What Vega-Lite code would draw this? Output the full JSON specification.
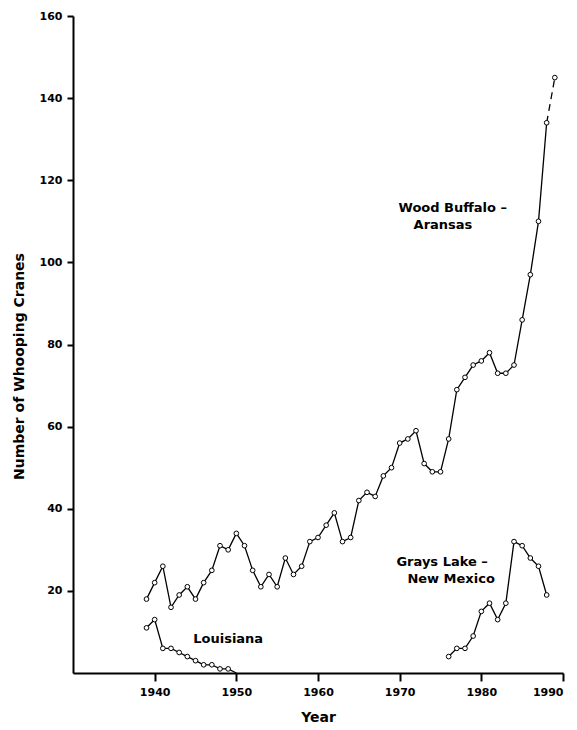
{
  "$schema": "https://vega.github.io/schema/vega-lite/v6.json",
  "width": 490,
  "height": 657,
  "autosize": {"type": "none"},
  "padding": {"left": 73, "top": 16, "right": 14, "bottom": 57},
  "background": "white",
  "config": {
    "view": {"stroke": null},
    "axis": {
      "grid": false,
      "domainColor": "black",
      "domainWidth": 2,
      "tickColor": "black",
      "tickWidth": 2,
      "labelFont": "DejaVu Sans",
      "labelFontWeight": "bold",
      "labelFontSize": 11,
      "labelColor": "black",
      "titleFont": "DejaVu Sans",
      "titleFontWeight": "bold",
      "titleFontSize": 14,
      "titleColor": "black"
    }
  },
  "datasets": {
    "cranes": [
      {"population": "Wood Buffalo – Aransas", "year": 1939, "count": 18},
      {"population": "Wood Buffalo – Aransas", "year": 1940, "count": 22},
      {"population": "Wood Buffalo – Aransas", "year": 1941, "count": 26},
      {"population": "Wood Buffalo – Aransas", "year": 1942, "count": 16},
      {"population": "Wood Buffalo – Aransas", "year": 1943, "count": 19},
      {"population": "Wood Buffalo – Aransas", "year": 1944, "count": 21},
      {"population": "Wood Buffalo – Aransas", "year": 1945, "count": 18},
      {"population": "Wood Buffalo – Aransas", "year": 1946, "count": 22},
      {"population": "Wood Buffalo – Aransas", "year": 1947, "count": 25},
      {"population": "Wood Buffalo – Aransas", "year": 1948, "count": 31},
      {"population": "Wood Buffalo – Aransas", "year": 1949, "count": 30},
      {"population": "Wood Buffalo – Aransas", "year": 1950, "count": 34},
      {"population": "Wood Buffalo – Aransas", "year": 1951, "count": 31},
      {"population": "Wood Buffalo – Aransas", "year": 1952, "count": 25},
      {"population": "Wood Buffalo – Aransas", "year": 1953, "count": 21},
      {"population": "Wood Buffalo – Aransas", "year": 1954, "count": 24},
      {"population": "Wood Buffalo – Aransas", "year": 1955, "count": 21},
      {"population": "Wood Buffalo – Aransas", "year": 1956, "count": 28},
      {"population": "Wood Buffalo – Aransas", "year": 1957, "count": 24},
      {"population": "Wood Buffalo – Aransas", "year": 1958, "count": 26},
      {"population": "Wood Buffalo – Aransas", "year": 1959, "count": 32},
      {"population": "Wood Buffalo – Aransas", "year": 1960, "count": 33},
      {"population": "Wood Buffalo – Aransas", "year": 1961, "count": 36},
      {"population": "Wood Buffalo – Aransas", "year": 1962, "count": 39},
      {"population": "Wood Buffalo – Aransas", "year": 1963, "count": 32},
      {"population": "Wood Buffalo – Aransas", "year": 1964, "count": 33},
      {"population": "Wood Buffalo – Aransas", "year": 1965, "count": 42},
      {"population": "Wood Buffalo – Aransas", "year": 1966, "count": 44},
      {"population": "Wood Buffalo – Aransas", "year": 1967, "count": 43},
      {"population": "Wood Buffalo – Aransas", "year": 1968, "count": 48},
      {"population": "Wood Buffalo – Aransas", "year": 1969, "count": 50},
      {"population": "Wood Buffalo – Aransas", "year": 1970, "count": 56},
      {"population": "Wood Buffalo – Aransas", "year": 1971, "count": 57},
      {"population": "Wood Buffalo – Aransas", "year": 1972, "count": 59},
      {"population": "Wood Buffalo – Aransas", "year": 1973, "count": 51},
      {"population": "Wood Buffalo – Aransas", "year": 1974, "count": 49},
      {"population": "Wood Buffalo – Aransas", "year": 1975, "count": 49},
      {"population": "Wood Buffalo – Aransas", "year": 1976, "count": 57},
      {"population": "Wood Buffalo – Aransas", "year": 1977, "count": 69},
      {"population": "Wood Buffalo – Aransas", "year": 1978, "count": 72},
      {"population": "Wood Buffalo – Aransas", "year": 1979, "count": 75},
      {"population": "Wood Buffalo – Aransas", "year": 1980, "count": 76},
      {"population": "Wood Buffalo – Aransas", "year": 1981, "count": 78},
      {"population": "Wood Buffalo – Aransas", "year": 1982, "count": 73},
      {"population": "Wood Buffalo – Aransas", "year": 1983, "count": 73},
      {"population": "Wood Buffalo – Aransas", "year": 1984, "count": 75},
      {"population": "Wood Buffalo – Aransas", "year": 1985, "count": 86},
      {"population": "Wood Buffalo – Aransas", "year": 1986, "count": 97},
      {"population": "Wood Buffalo – Aransas", "year": 1987, "count": 110},
      {"population": "Wood Buffalo – Aransas", "year": 1988, "count": 134},
      {"population": "Wood Buffalo – Aransas", "year": 1989, "count": 145},
      {"population": "Grays Lake – New Mexico", "year": 1976, "count": 4},
      {"population": "Grays Lake – New Mexico", "year": 1977, "count": 6},
      {"population": "Grays Lake – New Mexico", "year": 1978, "count": 6},
      {"population": "Grays Lake – New Mexico", "year": 1979, "count": 9},
      {"population": "Grays Lake – New Mexico", "year": 1980, "count": 15},
      {"population": "Grays Lake – New Mexico", "year": 1981, "count": 17},
      {"population": "Grays Lake – New Mexico", "year": 1982, "count": 13},
      {"population": "Grays Lake – New Mexico", "year": 1983, "count": 17},
      {"population": "Grays Lake – New Mexico", "year": 1984, "count": 32},
      {"population": "Grays Lake – New Mexico", "year": 1985, "count": 31},
      {"population": "Grays Lake – New Mexico", "year": 1986, "count": 28},
      {"population": "Grays Lake – New Mexico", "year": 1987, "count": 26},
      {"population": "Grays Lake – New Mexico", "year": 1988, "count": 19},
      {"population": "Louisiana", "year": 1939, "count": 11},
      {"population": "Louisiana", "year": 1940, "count": 13},
      {"population": "Louisiana", "year": 1941, "count": 6},
      {"population": "Louisiana", "year": 1942, "count": 6},
      {"population": "Louisiana", "year": 1943, "count": 5},
      {"population": "Louisiana", "year": 1944, "count": 4},
      {"population": "Louisiana", "year": 1945, "count": 3},
      {"population": "Louisiana", "year": 1946, "count": 2},
      {"population": "Louisiana", "year": 1947, "count": 2},
      {"population": "Louisiana", "year": 1948, "count": 1},
      {"population": "Louisiana", "year": 1949, "count": 1},
      {"population": "Louisiana", "year": 1950, "count": 0}
    ],
    "labels": [
      {"text": "Wood Buffalo –", "year": 1976.5, "count": 113.2},
      {"text": "Aransas", "year": 1975.3, "count": 109},
      {"text": "Grays Lake –", "year": 1975.2, "count": 27.1},
      {"text": "New Mexico", "year": 1976.3, "count": 22.9},
      {"text": "Louisiana", "year": 1949.0, "count": 8.3}
    ]
  },
  "layer": [
    {
      "data": {"name": "cranes"},
      "transform": [{"filter": "datum.population != 'Wood Buffalo – Aransas' || datum.year <= 1988"}],
      "mark": {"type": "line", "color": "black", "strokeWidth": 1.3},
      "encoding": {
        "x": {"field": "year", "type": "quantitative", "scale": {"domain": [1930, 1990], "nice": false, "zero": false},
          "axis": {"title": "Year", "values": [1940, 1950, 1960, 1970, 1980, 1990], "format": "d", "tickSize": 8, "labelPadding": 5, "titlePadding": 13}},
        "y": {"field": "count", "type": "quantitative", "scale": {"domain": [0, 160], "nice": false},
          "axis": {"title": "Number of Whooping Cranes", "values": [20, 40, 60, 80, 100, 120, 140, 160], "tickSize": 6, "labelPadding": 5, "titlePadding": 13, "titleY": 350}},
        "detail": {"field": "population"}
      }
    },
    {
      "data": {"name": "cranes"},
      "transform": [{"filter": "datum.population == 'Wood Buffalo – Aransas' && datum.year >= 1988"}],
      "mark": {"type": "line", "color": "black", "strokeWidth": 1.3, "strokeDash": [7, 5]},
      "encoding": {
        "x": {"field": "year", "type": "quantitative"},
        "y": {"field": "count", "type": "quantitative"}
      }
    },
    {
      "data": {"name": "cranes"},
      "transform": [{"filter": "datum.count > 0"}],
      "mark": {"type": "point", "shape": "circle", "filled": true, "fill": "white", "stroke": "black", "strokeWidth": 1, "size": 22, "opacity": 1},
      "encoding": {
        "x": {"field": "year", "type": "quantitative"},
        "y": {"field": "count", "type": "quantitative"}
      }
    },
    {
      "data": {"name": "labels"},
      "mark": {"type": "text", "font": "DejaVu Sans", "fontWeight": "bold", "fontSize": 13, "align": "center", "baseline": "middle", "color": "black"},
      "encoding": {
        "x": {"field": "year", "type": "quantitative"},
        "y": {"field": "count", "type": "quantitative"},
        "text": {"field": "text"}
      }
    }
  ]
}
